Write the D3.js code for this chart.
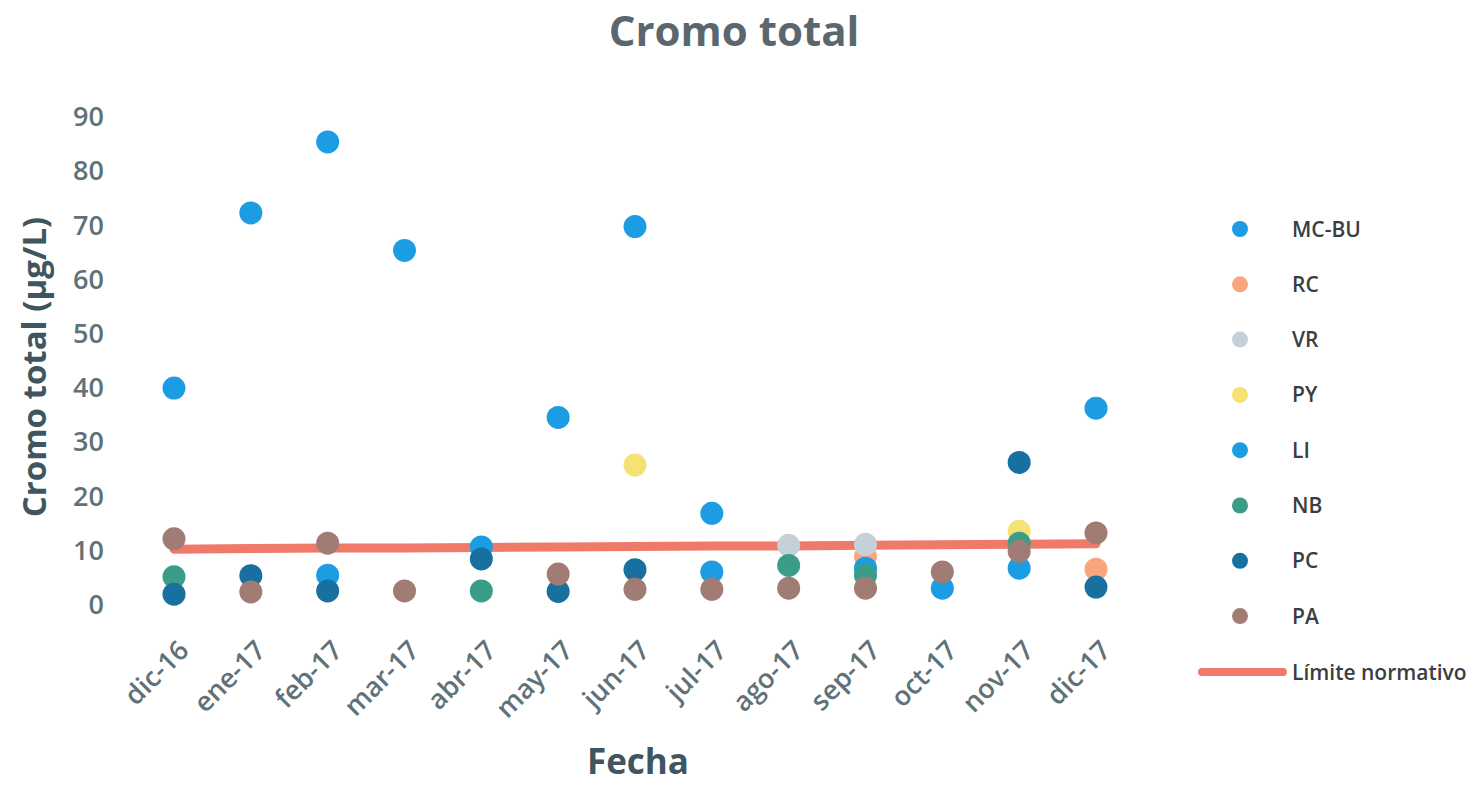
<!DOCTYPE html>
<html>
<head>
<meta charset="utf-8">
<script src="https://cdn.jsdelivr.net/npm/d3@7"></script>
<style>
  html, body { margin: 0; padding: 0; background: #fff; }
  svg { display: block; font-family: "Open Sans", Lato, sans-serif; }
</style>
</head>
<body>
<svg id="chart" width="1478" height="785"></svg>
<script>
// Sampling months
const months = ["dic-16","ene-17","feb-17","mar-17","abr-17","may-17","jun-17","jul-17","ago-17","sep-17","oct-17","nov-17","dic-17"];
const yTicks = [0,10,20,30,40,50,60,70,80,90];

// Total chromium per station (µg/L); null = no sample
const mcbu = [40.0, 72.3, 85.4, 65.4, 10.7, 34.6, 69.8, 16.9, null, null, null, null, 36.3];
const rc   = [null, null, null, null, null, null, null, null, null, 8.9, null, null, 6.6];
const vr   = [null, null, null, null, null, null, null, null, 11.0, 11.2, null, null, null];
const py   = [null, null, null, null, null, null, 25.8, null, null, null, null, 13.6, null];
const li   = [null, null, 5.5, null, null, null, null, 6.1, null, 6.8, 3.1, 6.8, null];
const nb   = [5.2, null, null, null, 2.6, null, null, null, 7.3, 5.5, null, 11.4, null];
const pc   = [2.0, 5.4, 2.6, null, 8.5, 2.5, 6.5, null, null, null, null, 26.3, 3.3];
const pa   = [12.2, 2.4, 11.4, 2.6, null, 5.7, 2.9, 2.9, 3.1, 3.1, 6.1, 9.9, 13.3];
// Regulatory limit
const limite = [10.3, 10.4, 10.5, 10.5, 10.6, 10.7, 10.8, 10.9, 10.9, 11.0, 11.1, 11.2, 11.3];

const series = [
  { name: "MC-BU", values: mcbu, color: "#1c9ce2" },
  { name: "RC",    values: rc,   color: "#f7a67e" },
  { name: "VR",    values: vr,   color: "#c6d0d8" },
  { name: "PY",    values: py,   color: "#f6e272" },
  { name: "LI",    values: li,   color: "#1c9ce2" },
  { name: "NB",    values: nb,   color: "#3a9d88" },
  { name: "PC",    values: pc,   color: "#17709f" },
  { name: "PA",    values: pa,   color: "#a17c74" }
];
const lineColor = "#f07a6a";

const svg = d3.select("#chart");

const x = d3.scalePoint().domain(months).range([174, 1096]);
const y = d3.scaleLinear().domain([0, 90]).range([605, 117]);

// Title
svg.append("text")
  .attr("x", 734).attr("y", 46)
  .attr("text-anchor", "middle")
  .attr("font-size", 42).attr("font-weight", 700)
  .attr("fill", "#5b676f")
  .text("Cromo total");

// Y axis (labels only)
const yAxis = svg.append("g")
  .attr("transform", "translate(104,0)")
  .call(d3.axisLeft(y).tickValues(yTicks).tickSize(0).tickPadding(0));
yAxis.select(".domain").remove();
yAxis.selectAll("text")
  .attr("font-size", 27).attr("font-family", "'Open Sans', sans-serif")
  .attr("font-weight", 600)
  .attr("fill", "#5f7279");

// X axis (rotated labels only)
const xAxis = svg.append("g")
  .attr("transform", "translate(0,616)")
  .call(d3.axisBottom(x).tickSize(0).tickPadding(0));
xAxis.select(".domain").remove();
xAxis.selectAll("text")
  .attr("font-size", 27).attr("font-family", "'Open Sans', sans-serif")
  .attr("font-weight", 600)
  .attr("fill", "#5f7279")
  .attr("text-anchor", "end")
  .attr("x", 0).attr("y", 0).attr("dy", 0)
  .attr("transform", "translate(16,36) rotate(-45)");

// Axis titles
svg.append("text")
  .attr("transform", "translate(46,367) rotate(-90)")
  .attr("text-anchor", "middle")
  .attr("font-size", 33).attr("font-weight", 700)
  .attr("fill", "#3f5660")
  .text("Cromo total (µg/L)");

svg.append("text")
  .attr("x", 638).attr("y", 774)
  .attr("text-anchor", "middle")
  .attr("font-size", 35).attr("font-weight", 700)
  .attr("fill", "#3f5660")
  .text("Fecha");

// Regulatory limit line
const line = d3.line()
  .x((d, i) => x(months[i]))
  .y(d => y(d));
svg.append("path")
  .datum(limite)
  .attr("d", line)
  .attr("fill", "none")
  .attr("stroke", lineColor)
  .attr("stroke-width", 9)
  .attr("stroke-linecap", "round");

// Points per station
const pts = svg.append("g");
series.forEach(s => {
  pts.append("g")
    .selectAll("circle")
    .data(s.values.map((v, i) => ({ m: months[i], v })).filter(d => d.v != null))
    .join("circle")
    .attr("cx", d => x(d.m))
    .attr("cy", d => y(d.v))
    .attr("r", 11.5)
    .attr("fill", s.color);
});

// Legend
const legend = svg.append("g");
series.forEach((s, i) => {
  const ly = 229 + i * 55.3;
  legend.append("circle")
    .attr("cx", 1240).attr("cy", ly).attr("r", 8)
    .attr("fill", s.color);
  legend.append("text")
    .attr("x", 1292).attr("y", ly).attr("dy", "0.36em")
    .attr("font-size", 21).attr("font-weight", 600)
    .attr("fill", "#3a3e42")
    .text(s.name);
});
legend.append("line")
  .attr("x1", 1202).attr("x2", 1283)
  .attr("y1", 672).attr("y2", 672)
  .attr("stroke", lineColor).attr("stroke-width", 8)
  .attr("stroke-linecap", "round");
legend.append("text")
  .attr("x", 1292).attr("y", 672).attr("dy", "0.36em")
  .attr("font-size", 21).attr("font-weight", 600)
  .attr("fill", "#3a3e42")
  .text("Límite normativo");
</script>
</body>
</html>
